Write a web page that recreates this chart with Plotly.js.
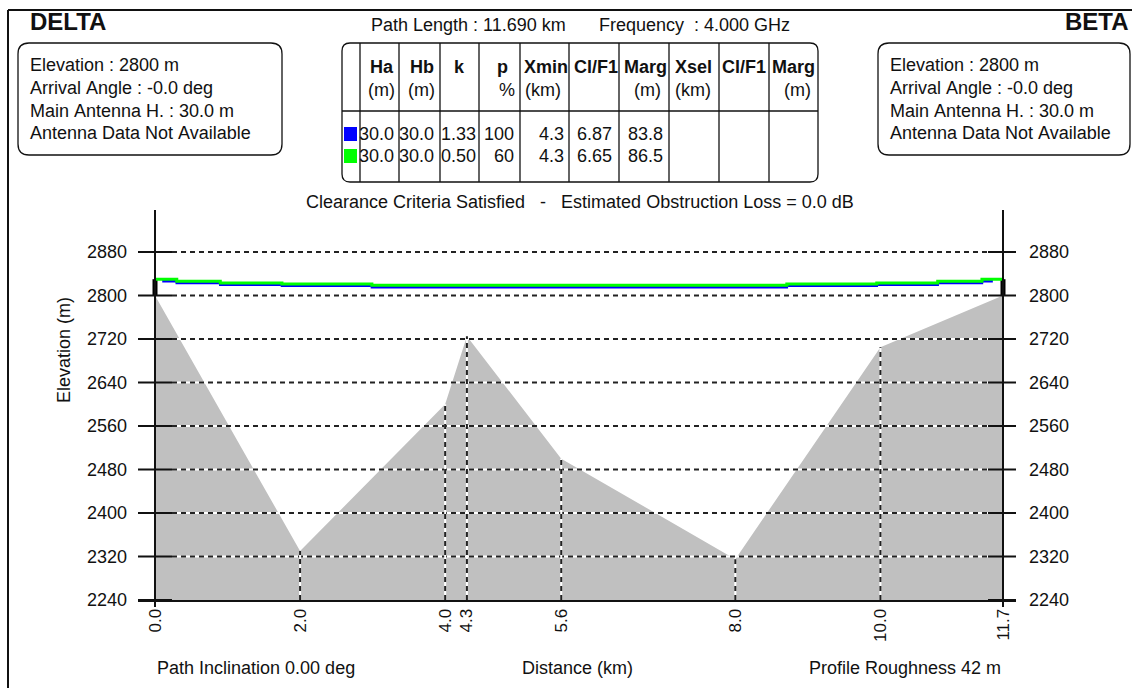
<!DOCTYPE html>
<html><head><meta charset="utf-8">
<script src="https://cdn.plot.ly/plotly-3.0.1.min.js"></script>
<style>html,body{margin:0;padding:0;background:#fff;}#chart{width:1132px;height:688px;}</style>
</head><body><div id="chart"></div>
<script>
// ---------- data ----------
const distKm   = [0, 2.0, 4.0, 4.3, 5.6, 8.0, 10.0, 11.69];
const elevM    = [2800, 2330, 2600, 2725, 2500, 2315, 2705, 2800];
const yTicks   = [2240, 2320, 2400, 2480, 2560, 2640, 2720, 2800, 2880];
const siteNames = ['DELTA', 'BETA'];
const siteElev  = [2800, 2800];
const antennaH  = [30.0, 30.0];
const arrivalAngle = [-0.0, -0.0];
// line of sight, k = 1.33 (blue) and k = 0.50 (green)
const losBlueKm  = [0.1, 0.30, 0.90, 1.75, 2.99, 8.71, 9.95, 10.79, 11.40, 11.55];
const losBlueM   = [2826, 2823, 2820, 2818, 2815, 2818, 2820, 2823, 2826, 2826];
const losGreenKm = [0, 0.30, 0.90, 1.75, 2.99, 8.71, 9.95, 10.79, 11.40, 11.69];
const losGreenM  = [2830, 2826, 2823, 2821, 2819, 2821, 2823, 2826, 2830, 2830];
// table
const tabHa   = [30.0, 30.0];
const tabHb   = [30.0, 30.0];
const tabK    = [1.33, 0.50];
const tabP    = [100, 60];
const tabXmin = [4.3, 4.3];
const tabClF1 = [6.87, 6.65];
const tabMarg = [83.8, 86.5];
const tabColors = ['#0000ff', '#00ff00'];
const pathLengthKm = 11.690, freqGHz = 4.000;
const inclinationDeg = 0.00, roughnessM = 42, obstructionLossDb = 0.0;

// ---------- geometry helpers ----------
const L = 138, R = 1016, T = 210, B = 600;
const X0PX = 155, X1PX = 1003;
const FONT = 'Liberation Sans, Arial, sans-serif';
const TXT = '#111';
function px(x){ return (x - L) / (R - L); }
function py(y){ return (B - y) / (B - T); }
const lastD = distKm[distKm.length - 1];
const kmPerPx = lastD / (X1PX - X0PX);
const xRange = [-(X0PX - L) * kmPerPx, lastD + (R - X1PX) * kmPerPx];
const yRange = [2240, 2240 + (B - T) * 640 / 348];

const shapes = [];
const ann = [];
function pline(x0, y0, x1, y1, w, c, dash){
  shapes.push({type:'line', xref:'paper', yref:'paper', x0:px(x0), y0:py(y0), x1:px(x1), y1:py(y1),
    line:{color:c||TXT, width:w||1, dash:dash||'solid'}, layer:'above'});
}
function rrect(x0, y0, x1, y1, r){
  const P = (x, y) => px(x) + ',' + py(y);
  const path = 'M' + P(x0 + r, y0) + ' L' + P(x1 - r, y0) + ' Q' + P(x1, y0) + ' ' + P(x1, y0 + r) +
    ' L' + P(x1, y1 - r) + ' Q' + P(x1, y1) + ' ' + P(x1 - r, y1) + ' L' + P(x0 + r, y1) +
    ' Q' + P(x0, y1) + ' ' + P(x0, y1 - r) + ' L' + P(x0, y0 + r) + ' Q' + P(x0, y0) + ' ' + P(x0 + r, y0) + ' Z';
  shapes.push({type:'path', xref:'paper', yref:'paper', path:path, line:{color:TXT, width:1.3}, layer:'above'});
}
function text(t, x, y, anchor, size, bold){
  ann.push({text: bold ? '<b>' + t + '</b>' : t, xref:'paper', yref:'paper', x:px(x), y:py(y),
    xanchor:anchor||'left', yanchor:'middle', showarrow:false, font:{family:FONT, size:size||18, color:TXT}});
}
const nb = s => s.replace(/ /g, '\u00a0');

// ---------- grid (white under black dashes, above terrain) ----------
const DASH = '5px,4px';
yTicks.slice(1).forEach(v => {
  shapes.push({type:'line', xref:'paper', yref:'y', x0:px(172), x1:px(988), y0:v, y1:v, line:{color:'#fff', width:2}, layer:'above'});
  shapes.push({type:'line', xref:'paper', yref:'y', x0:px(172), x1:px(988), y0:v, y1:v, line:{color:'#222', width:2, dash:DASH}, layer:'above'});
});
yTicks.forEach(v => {
  shapes.push({type:'line', xref:'paper', yref:'y', x0:px(L), x1:px(172), y0:v, y1:v, line:{color:'#111', width:2}, layer:'above'});
  shapes.push({type:'line', xref:'paper', yref:'y', x0:px(988), x1:px(R), y0:v, y1:v, line:{color:'#111', width:2}, layer:'above'});
});
// vertical dashed lines at profile break points
distKm.slice(1, -1).forEach((d, i) => {
  const e = elevM[i + 1];
  shapes.push({type:'line', xref:'x', yref:'y', x0:d, x1:d, y0:yTicks[0], y1:e, line:{color:'#fff', width:2}, layer:'above'});
  shapes.push({type:'line', xref:'x', yref:'y', x0:d, x1:d, y0:yTicks[0], y1:e, line:{color:'#222', width:2, dash:DASH}, layer:'above'});
});
// site axes
[distKm[0], lastD].forEach(d => {
  shapes.push({type:'line', xref:'x', yref:'paper', x0:d, x1:d, y0:py(607), y1:1, line:{color:'#111', width:2}, layer:'above'});
});

// ---------- frame and header ----------
pline(8, 10, 1132, 10, 2);
pline(8, 10, 8, 688, 2);
text(siteNames[0], 28, 22, 'left', 24, true);
text(siteNames[1], 1131, 22, 'right', 24, true);
[[18, 282, 28], [878, 1130, 888]].forEach((b, i) => {
  rrect(b[0], 43, b[1], 155, 11);
  text(nb('Elevation : ' + siteElev[i] + ' m'), b[2], 65);
  text(nb('Arrival Angle : ' + arrivalAngle[i].toFixed(1).replace(/^0/, '-0') + ' deg'), b[2], 88);
  text(nb('Main Antenna H. : ' + antennaH[i].toFixed(1) + ' m'), b[2], 111);
  text(nb('Antenna Data Not Available'), b[2], 133);
});
text(nb('Path Length : ' + pathLengthKm.toFixed(3) + ' km'), 369, 25);
text(nb('Frequency  : ' + freqGHz.toFixed(3) + ' GHz'), 597, 25);

// ---------- table ----------
rrect(342, 43, 818, 182, 8);
[360, 399, 440, 479, 520, 569, 619, 669, 719, 769].forEach(x => pline(x, 43, x, 182, 1.3));
pline(342, 111, 818, 111, 1.3);
const hdr = [
  ['Ha', 368, '(m)', 366], ['Hb', 408, '(m)', 406], ['k', 452, '', 0], ['p', 495, '%', 497],
  ['Xmin', 522, '(km)', 523], ['Cl/F1', 572, '', 0], ['Marg', 622, '(m)', 632],
  ['Xsel', 673, '(km)', 673], ['Cl/F1', 720, '', 0], ['Marg', 770, '(m)', 782]
];
hdr.forEach(h => { text(h[0], h[1], 67, 'left', 18, true); if (h[2]) text(h[2], h[3], 90); });
const rowsY = [134, 156];
rowsY.forEach((y, i) => {
  shapes.push({type:'rect', xref:'paper', yref:'paper', x0:px(344), x1:px(357), y0:py(y - 7), y1:py(y + 7),
    fillcolor:tabColors[i], line:{width:0}, layer:'above'});
  text(tabHa[i].toFixed(1), 396, y, 'right');
  text(tabHb[i].toFixed(1), 436, y, 'right');
  text(tabK[i].toFixed(2), 478, y, 'right');
  text(String(tabP[i]), 516, y, 'right');
  text(tabXmin[i].toFixed(1), 566, y, 'right');
  text(tabClF1[i].toFixed(2), 614, y, 'right');
  text(tabMarg[i].toFixed(1), 665, y, 'right');
});

text(nb('Clearance Criteria Satisfied   -   Estimated Obstruction Loss = ' + obstructionLossDb.toFixed(1) + ' dB'), 580, 202, 'center');
text(nb('Path Inclination ' + inclinationDeg.toFixed(2) + ' deg'), 155, 668, 'left');
text('Distance (km)', 577, 668, 'center');
text(nb('Profile Roughness ' + roughnessM + ' m'), 1003, 668, 'right');
ann.push({text:'Elevation (m)', xref:'paper', yref:'paper', x:px(64), y:py(350), xanchor:'center', yanchor:'middle',
  textangle:-90, showarrow:false, font:{family:FONT, size:18, color:TXT}});

// ---------- traces ----------
const traces = [
  {x: distKm, y: elevM, type:'scatter', mode:'lines', fill:'tozeroy', fillcolor:'#c0c0c0',
   line:{width:0, color:'#c0c0c0'}, hoverinfo:'skip'},
  {x: losBlueKm, y: losBlueM, type:'scatter', mode:'lines', line:{color:'#0000ff', width:2.5, shape:'hv'}, hoverinfo:'skip'},
  {x: losGreenKm, y: losGreenM, type:'scatter', mode:'lines', line:{color:'#00ff00', width:3, shape:'hv'}, hoverinfo:'skip', yaxis:'y2'},
  {x: [distKm[0], distKm[0], null, lastD, lastD],
   y: [siteElev[0], siteElev[0] + antennaH[0], null, siteElev[1], siteElev[1] + antennaH[1]],
   type:'scatter', mode:'lines', line:{color:'#000', width:5}, hoverinfo:'skip'}
];

const tickFont = {family:FONT, size:18, color:TXT};
const layout = {
  width:1132, height:688, margin:{l:L, r:1132 - R, t:T, b:688 - B},
  paper_bgcolor:'#fff', plot_bgcolor:'#fff', showlegend:false,
  xaxis:{range:xRange, showgrid:false, zeroline:false, showline:true, linecolor:'#111', linewidth:2,
    tickvals:distKm, ticktext:distKm.map(d => d.toFixed(1)), tickangle:-90, ticks:'',
    tickfont:{family:FONT, size:17, color:TXT}, ticklabelstandoff:0, fixedrange:true},
  yaxis:{range:yRange, showgrid:false, zeroline:false, showline:false, tickvals:yTicks, ticks:'',
    tickfont:tickFont, ticklabelstandoff:10, fixedrange:true},
  yaxis2:{range:yRange, overlaying:'y', side:'right', showgrid:false, zeroline:false, showline:false,
    tickvals:yTicks, ticks:'', tickfont:tickFont, ticklabelstandoff:12, fixedrange:true},
  shapes:shapes, annotations:ann
};
Plotly.newPlot('chart', traces, layout, {displayModeBar:false, staticPlot:true});
</script></body></html>
